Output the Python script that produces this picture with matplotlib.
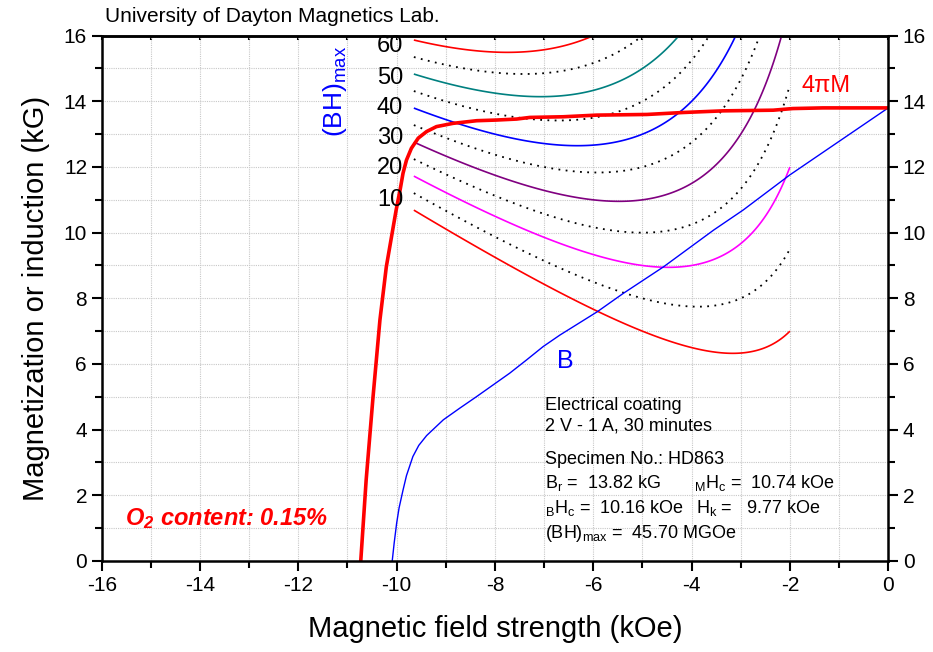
import matplotlib
matplotlib.use("Agg")
import matplotlib.pyplot as plt
from matplotlib.ticker import MultipleLocator
import numpy as np

plt.rcParams['font.family'] = ['Liberation Sans', 'DejaVu Sans']
plt.rcParams['mathtext.fontset'] = 'custom'
plt.rcParams['mathtext.rm'] = 'Liberation Sans'
plt.rcParams['mathtext.it'] = 'Liberation Sans:italic'
plt.rcParams['mathtext.bf'] = 'Liberation Sans:bold:italic'
plt.rcParams['axes.unicode_minus'] = False

# 4piM demagnetization curve (kOe, kG)
h_4pim = [-10.73, -10.62, -10.48, -10.34, -10.21, -10.01, -9.93, -9.87, -9.80,
          -9.70, -9.56, -9.39, -9.19, -8.85, -8.37, -7.97, -7.56, -7.29, -6.61,
          -5.93, -4.91, -4.17, -3.36, -2.34, -1.94, -1.33, 0.0]
m_4pim = [0.0, 2.47, 5.0, 7.34, 8.96, 10.69, 11.30, 11.81, 12.21,
          12.57, 12.88, 13.08, 13.23, 13.33, 13.41, 13.43, 13.46, 13.51, 13.53,
          13.58, 13.60, 13.66, 13.71, 13.73, 13.78, 13.80, 13.80]

# induction B curve
h_b = [-10.09, -10.05, -10.0, -9.95, -9.87, -9.80, -9.67, -9.55, -9.39, -9.05,
       -8.72, -8.38, -8.04, -7.70, -7.36, -7.02, -6.68, -5.92, -5.39, -4.57,
       -3.55, -2.95, -2.0, 0.0]
b_b = [0.0, 0.55, 1.15, 1.62, 2.16, 2.60, 3.18, 3.52, 3.82, 4.30,
       4.65, 5.0, 5.36, 5.72, 6.12, 6.53, 6.88, 7.59, 8.15, 8.96,
       10.08, 10.69, 11.76, 13.80]

# constant energy product lines (MGOe)
bh_solid = [10, 20, 30, 40, 50, 60]
bh_colors = ['#ff0000', '#ff00ff', '#800080', '#0000ff', '#008080', '#ff0000']
bh_dotted = [15, 25, 35, 45, 55]
bh_label_y = [11.0, 11.96, 12.88, 13.79, 14.70, 15.67]
h_range = (-9.65, -2.0)

fig = plt.figure(figsize=(9.33, 6.52), dpi=100)
ax = fig.add_axes([0.109, 0.1396, 0.843, 0.8057])

# energy product iso-lines in 4piM-H plane: (4piM + H) * (-H) = BH
hh, mm = np.meshgrid(np.linspace(h_range[0], h_range[1], 500), np.linspace(0, 16.5, 500))
zz = (mm + hh) * (-hh)
ax.contour(hh, mm, zz, levels=bh_dotted, colors='black', linewidths=1.3,
           linestyles=[(0, (1, 3))])
ax.contour(hh, mm, zz, levels=bh_solid, colors=bh_colors, linewidths=1.2)

ax.plot(h_b, b_b, color='#0000ff', lw=1.0)
ax.plot(h_4pim, m_4pim, color='#ff0000', lw=2.6)

for lv, ly in zip(bh_solid, bh_label_y):
    ax.text(-9.87, ly, str(lv), fontsize=17, ha='right', va='center')
ax.text(-11.25, 14.3, r'(BH)$_{\mathrm{max}}$', color='#0000ff', fontsize=19,
        rotation=90, ha='center', va='center')
ax.text(-1.27, 14.47, '4\u03c0M', color='#ff0000', fontsize=17, ha='center', va='center')
ax.text(-6.56, 6.1, 'B', color='#0000ff', fontsize=18, ha='center', va='center')
ax.text(-15.52, 1.3, r'O$_\mathbf{2}$ content: 0.15%', color='#ff0000', fontsize=17,
        fontweight='bold', fontstyle='italic', ha='left', va='center')

info_fs = 13
ax.text(-6.98, 4.75, 'Electrical coating', fontsize=info_fs, va='center')
ax.text(-6.98, 4.10, '2 V - 1 A, 30 minutes', fontsize=info_fs, va='center')
ax.text(-6.98, 3.08, 'Specimen No.: HD863', fontsize=info_fs, va='center')
ax.text(-6.98, 2.38, r'B$_\mathrm{r}$ =  13.82 kG', fontsize=info_fs, va='center')
ax.text(-3.95, 2.38, r'${}_\mathrm{M}$H$_\mathrm{c}$ =  10.74 kOe', fontsize=info_fs, va='center')
ax.text(-6.98, 1.60, r'${}_\mathrm{B}$H$_\mathrm{c}$ =  10.16 kOe', fontsize=info_fs, va='center')
ax.text(-3.91, 1.60, r'H$_\mathrm{k}$ =   9.77 kOe', fontsize=info_fs, va='center')
ax.text(-6.98, 0.85, r'(BH)$_\mathrm{max}$ =  45.70 MGOe', fontsize=info_fs, va='center')

ax.set_xlim(-16, 0)
ax.set_ylim(0, 16)
ax.xaxis.set_major_locator(MultipleLocator(2))
ax.xaxis.set_minor_locator(MultipleLocator(1))
ax.yaxis.set_major_locator(MultipleLocator(2))
ax.yaxis.set_minor_locator(MultipleLocator(1))
ax.grid(True, which='both', color='#c8c8c8', lw=0.8, ls=(0, (1, 1)))
ax.set_axisbelow(True)
ax.tick_params(which='both', direction='out', width=1.5, labelsize=15,
               right=True, labelright=True)
ax.tick_params(which='major', length=7)
ax.tick_params(which='minor', length=5)
# small inward ticks along the top edge
ax_top = ax.secondary_xaxis('top')
ax_top.xaxis.set_major_locator(MultipleLocator(1))
ax_top.tick_params(direction='in', length=3, width=1.5, labeltop=False)
ax_top.spines['top'].set_linewidth(1.8)
for sp in ax.spines.values():
    sp.set_linewidth(1.8)

ax.set_xlabel('Magnetic field strength (kOe)', fontsize=21, labelpad=15)
ax.set_ylabel('Magnetization or induction (kG)', fontsize=21, labelpad=10)
fig.text(0.113, 0.974, 'University of Dayton Magnetics Lab.', fontsize=15,
         ha='left', va='center')

fig.savefig('out.png', dpi=100)
